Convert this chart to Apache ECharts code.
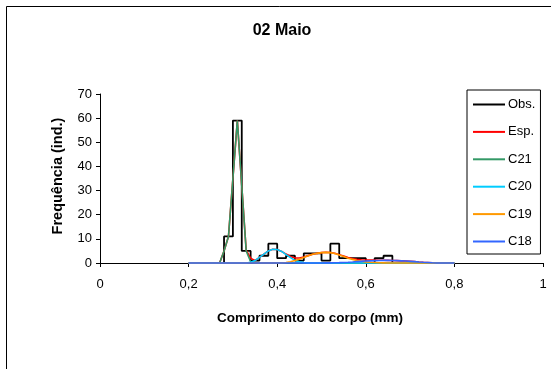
<!DOCTYPE html>
<html>
<head>
<meta charset="utf-8">
<script src="https://cdn.jsdelivr.net/npm/echarts@6/dist/echarts.min.js"></script>
<style>
  html, body { margin: 0; padding: 0; background: #fff; }
  #chart { width: 551px; height: 369px; }
</style>
</head>
<body>
<div id="chart"></div>
<script>
// Body-length frequencies, 02 Maio
const seriesNames = ['Obs.', 'Esp.', 'C21', 'C20', 'C19', 'C18'];

// Observed histogram: left edge of each 0.02 mm class and its count
const obsClassStart = [0.28, 0.30, 0.32, 0.34, 0.36, 0.38, 0.40, 0.42, 0.44, 0.46,
                       0.48, 0.50, 0.52, 0.54, 0.56, 0.58, 0.60, 0.62, 0.64];
const obsCount      = [11, 59, 5, 1, 3, 8, 2, 3, 1, 4,
                       4, 1, 8, 2, 2, 2, 0, 2, 3];
const obsClassWidth = 0.02;

// Fitted curves, sampled at body length 0.20 … 0.80 mm
const lengthGrid = [0.20, 0.21, 0.22, 0.23, 0.24, 0.25, 0.26, 0.27, 0.28, 0.29,
                    0.30, 0.31, 0.32, 0.33, 0.34, 0.35, 0.36, 0.37, 0.38, 0.39,
                    0.40, 0.41, 0.42, 0.43, 0.44, 0.45, 0.46, 0.47, 0.48, 0.49,
                    0.50, 0.51, 0.52, 0.53, 0.54, 0.55, 0.56, 0.57, 0.58, 0.59,
                    0.60, 0.61, 0.62, 0.63, 0.64, 0.65, 0.66, 0.67, 0.68, 0.69,
                    0.70, 0.71, 0.72, 0.73, 0.74, 0.75, 0.76, 0.77, 0.78, 0.79, 0.80];

const espValues = [0, 0, 0, 0, 0, 0, 0,
  0, 5, 11, 35, 59, 32, 5.3, 2.0, 1.0,
  2.3, 3.7, 5.0, 5.7, 5.6, 4.8, 3.7, 2.7, 2.1, 2.1,
  2.5, 3.05, 3.6, 4.0, 4.3, 4.45, 4.35, 4.0, 3.45, 2.9,
  2.3, 1.9, 1.55, 1.35, 1.25, 1.2, 1.2, 1.15, 1.15, 1.1,
  1.05, 1.0, 0.9, 0.8, 0.68, 0.55, 0.42, 0.3, 0.2, 0.1,
  0.03, 0, 0, 0, 0];

const c21Values = [0, 0, 0, 0, 0, 0, 0,
  0, 5, 11, 35, 59, 32, 5, 0.5,
  0, 0, 0, 0, 0, 0, 0, 0, 0, 0, 0, 0, 0, 0, 0, 0, 0, 0, 0, 0, 0, 0, 0, 0, 0, 0, 0, 0,
  0, 0, 0, 0, 0, 0, 0, 0, 0, 0, 0, 0, 0, 0, 0, 0, 0, 0, 0];

const c20Values = [0, 0, 0, 0, 0, 0, 0, 0, 0, 0, 0, 0, 0, 0,
  0.3, 1, 2.3, 3.7, 5.0, 5.7, 5.6, 4.8, 3.5, 2.2, 1.1, 0.5, 0.2, 0.05,
  0, 0, 0, 0, 0, 0, 0, 0, 0, 0, 0, 0, 0, 0, 0, 0, 0, 0, 0, 0, 0, 0, 0, 0, 0, 0, 0, 0, 0, 0, 0, 0, 0];

const c19Values = [0, 0, 0, 0, 0, 0, 0, 0, 0, 0, 0, 0, 0, 0, 0, 0, 0, 0, 0, 0, 0, 0,
  0.2, 0.5, 1.0, 1.6, 2.3, 3.0, 3.6, 4.0, 4.3, 4.4, 4.3, 3.9, 3.3, 2.7, 2.0, 1.5,
  1.0, 0.7, 0.45, 0.3, 0.2, 0.1, 0.05, 0,
  0, 0, 0, 0, 0, 0, 0, 0, 0, 0, 0, 0, 0, 0, 0];

const c18Values = [0, 0, 0, 0, 0, 0, 0, 0, 0, 0, 0, 0, 0, 0, 0, 0, 0, 0, 0, 0,
  0, 0, 0, 0, 0, 0, 0, 0, 0, 0, 0.02, 0.04,
  0.05, 0.1, 0.15, 0.22, 0.3, 0.42, 0.55, 0.68, 0.8, 0.9, 1.0, 1.05, 1.1, 1.1,
  1.05, 1.0, 0.9, 0.8, 0.68, 0.55, 0.42, 0.3, 0.2, 0.1, 0.03,
  0, 0, 0, 0];

const xTicks = [0, 0.2, 0.4, 0.6, 0.8, 1];
const yTicks = [0, 10, 20, 30, 40, 50, 60, 70];

// Step outline of the histogram
function stepOutline(starts, counts, width) {
  const pts = [];
  for (let i = 0; i < starts.length; i++) {
    const prev = i === 0 ? 0 : counts[i - 1];
    pts.push([starts[i], prev]);
    pts.push([starts[i], counts[i]]);
  }
  const last = starts.length - 1;
  const end = +(starts[last] + width).toFixed(4);
  pts.push([end, counts[last]]);
  pts.push([end, 0]);
  return pts;
}
const pair = (vals) => lengthGrid.map((x, i) => [x, vals[i]]);

const colors = ['#000000', '#ff0000', '#339966', '#00ccff', '#ff9900', '#3366ff'];
const curveData = [stepOutline(obsClassStart, obsCount, obsClassWidth),
  pair(espValues), pair(c21Values), pair(c20Values), pair(c19Values), pair(c18Values)];

const FONT = 'Liberation Sans, Arial, sans-serif';
const chart = echarts.init(document.getElementById('chart'), null, { renderer: 'canvas' });

chart.setOption({
  animation: false,
  backgroundColor: '#ffffff',
  grid: { left: 100, right: 8, top: 94, bottom: 106, containLabel: false },
  xAxis: {
    type: 'value', min: xTicks[0], max: xTicks[xTicks.length - 1], interval: 0.2,
    axisLine: { lineStyle: { color: '#000', width: 1 } },
    axisTick: { show: true, length: 4, lineStyle: { color: '#000' } },
    splitLine: { show: false },
    axisLabel: {
      color: '#000', fontFamily: FONT, fontSize: 13, margin: 15,
      formatter: v => String(+v.toFixed(1)).replace('.', ',')
    }
  },
  yAxis: {
    type: 'value', min: yTicks[0], max: yTicks[yTicks.length - 1], interval: 10,
    axisLine: { show: true, lineStyle: { color: '#000', width: 1 } },
    axisTick: { show: true, length: 4, lineStyle: { color: '#000' } },
    splitLine: { show: false },
    axisLabel: { color: '#000', fontFamily: FONT, fontSize: 13, margin: 8 }
  },
  legend: {
    orient: 'vertical',
    left: 467, top: 90,
    padding: [8, 5, 6, 6],
    borderColor: '#000', borderWidth: 1,
    itemWidth: 32, itemHeight: 2, itemGap: 14.4,
    icon: 'rect',
    textStyle: { color: '#000', fontFamily: FONT, fontSize: 13, padding: [0, 0, 0, -2] },
    data: seriesNames
  },
  graphic: [
    { type: 'rect', silent: true, shape: { x: 6.5, y: 6.5, width: 600, height: 420 },
      style: { fill: 'none', stroke: '#000', lineWidth: 1 } },
    { type: 'text', x: 282, y: 31,
      style: { text: '02 Maio', font: 'bold 16px ' + FONT, fill: '#000',
               align: 'center', verticalAlign: 'middle' } },
    { type: 'text', x: 310, y: 318,
      style: { text: 'Comprimento do corpo (mm)', font: 'bold 13.5px ' + FONT, fill: '#000',
               align: 'center', verticalAlign: 'middle' } },
    { type: 'text', x: 58, y: 176, rotation: Math.PI / 2,
      style: { text: 'Frequência (ind.)', font: 'bold 14.5px ' + FONT, fill: '#000',
               align: 'center', verticalAlign: 'middle' } }
  ],
  series: seriesNames.map((name, i) => ({
    name,
    type: 'line',
    data: curveData[i],
    showSymbol: false,
    symbol: 'none',
    clip: false,
    color: colors[i],
    lineStyle: { color: colors[i], width: i === 0 ? 1.8 : 1.6 },
    z: 2 + i
  }))
});
</script>
</body>
</html>
